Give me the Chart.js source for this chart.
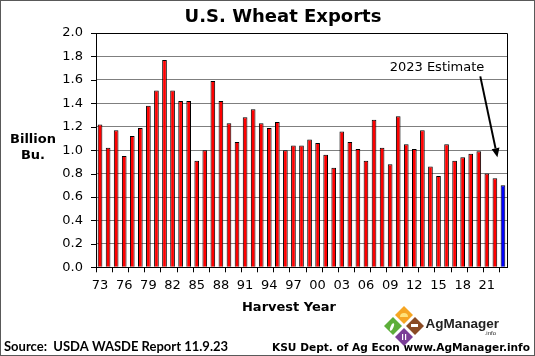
<!DOCTYPE html>
<html>
<head>
<meta charset="utf-8">
<script src="https://cdn.jsdelivr.net/npm/chart.js@4.4.1/dist/chart.umd.min.js"></script>
<style>
  html, body { margin: 0; padding: 0; background: #fff; }
  #wrap { width: 535px; height: 356px; }
</style>
</head>
<body>
<div id="wrap"><canvas id="c" width="535" height="356"></canvas></div>
<script>
// ---- data ----
const years = ['73','74','75','76','77','78','79','80','81','82',
               '83','84','85','86','87','88','89','90','91','92',
               '93','94','95','96','97','98','99','00','01','02',
               '03','04','05','06','07','08','09','10','11','12',
               '13','14','15','16','17','18','19','20','21','22','23'];
const exports = [1.22,1.02,1.17,0.95,1.12,1.19,1.38,1.51,1.77,1.51,
                 1.42,1.42,0.91,1.00,1.59,1.42,1.23,1.07,1.28,1.35,
                 1.23,1.19,1.24,1.00,1.04,1.04,1.09,1.06,0.96,0.85,
                 1.16,1.07,1.01,0.91,1.26,1.02,0.88,1.29,1.05,1.01,
                 1.17,0.86,0.78,1.05,0.91,0.94,0.97,0.99,0.80,0.76,0.70];
const estimateYear = '23';
const yTicks = [0.0,0.2,0.4,0.6,0.8,1.0,1.2,1.4,1.6,1.8,2.0];
const labelEvery = 3;
const titleText = 'U.S. Wheat Exports';
const yTitle = ['Billion', 'Bu.'];
const xTitle = 'Harvest Year';
const noteText = '2023 Estimate';
const sourceText = 'Source:  USDA WASDE Report 11.9.23';
const creditText = 'KSU Dept. of Ag Econ www.AgManager.info';

const RED = '#FF0000', BLUE = '#0000FF';
const barColors = years.map(y => y === estimateYear ? BLUE : RED);

const deco = {
  id: 'deco',
  beforeDraw(chart) {
    const ctx = chart.ctx;
    ctx.save();
    ctx.fillStyle = '#fff';
    ctx.fillRect(0, 0, chart.width, chart.height);
    ctx.restore();
  },
  afterDraw(chart) {
    const { ctx, chartArea: a, scales: { x, y } } = chart;
    ctx.save();
    // plot frame top & right
    ctx.strokeStyle = '#000';
    ctx.lineWidth = 1;
    ctx.beginPath();
    ctx.moveTo(a.left, Math.round(a.top) + 0.5);
    ctx.lineTo(Math.round(a.right) + 0.5, Math.round(a.top) + 0.5);
    ctx.lineTo(Math.round(a.right) + 0.5, a.bottom);
    ctx.stroke();
    // y tick marks
    ctx.beginPath();
    y.ticks.forEach(t => {
      const py = Math.round(y.getPixelForValue(t.value)) + 0.5;
      ctx.moveTo(a.left - 5, py);
      ctx.lineTo(a.left, py);
    });
    // x tick marks every 2 categories (between bars)
    const n = years.length;
    const cw = (x.right - x.left) / n;
    for (let i = 0; i <= n; i += 2) {
      const px = Math.round(x.left + i * cw) + 0.5;
      ctx.moveTo(px, a.bottom);
      ctx.lineTo(px, a.bottom + 5);
    }
    ctx.stroke();

    // title
    ctx.fillStyle = '#000';
    ctx.textAlign = 'center';
    ctx.textBaseline = 'middle';
    ctx.font = 'bold 18px "DejaVu Sans"';
    ctx.fillText(titleText, 283, 17);
    // y title
    ctx.font = 'bold 13px "DejaVu Sans"';
    ctx.fillText(yTitle[0], 33, 140);
    ctx.fillText(yTitle[1], 33, 156);
    // x title
    ctx.fillText(xTitle, 289, 308);
    // annotation
    ctx.font = '13px "DejaVu Sans"';
    ctx.fillText(noteText, 437, 68);
    // arrow anchored to the estimate region
    const tipX = x.getPixelForValue(years.length - 2) + 2.5;
    const tipY = y.getPixelForValue(0.94);
    const sX = x.getPixelForValue(years.length - 4) + 1.5;
    const sY = y.getPixelForValue(1.63);
    ctx.strokeStyle = '#000';
    ctx.lineWidth = 2;
    const ang = Math.atan2(tipY - sY, tipX - sX);
    const hl = 9, hw = 4;
    const bx = tipX - hl * Math.cos(ang), by = tipY - hl * Math.sin(ang);
    ctx.beginPath();
    ctx.moveTo(sX, sY);
    ctx.lineTo(bx, by);
    ctx.stroke();
    ctx.beginPath();
    ctx.moveTo(tipX, tipY);
    ctx.lineTo(bx + hw * Math.sin(ang), by - hw * Math.cos(ang));
    ctx.lineTo(bx - hw * Math.sin(ang), by + hw * Math.cos(ang));
    ctx.closePath();
    ctx.fillStyle = '#000';
    ctx.fill();

    // source
    ctx.textAlign = 'left';
    ctx.textBaseline = 'alphabetic';
    ctx.font = 'bold 13px Lato';
    ctx.fillStyle = '#000';
    ctx.fillText(sourceText, 4, 351);
    // credit
    ctx.textAlign = 'right';
    ctx.font = 'bold 10.6px "DejaVu Sans"';
    ctx.fillText(creditText, 530, 351);

    // AgManager logo
    const dia = (cx, cy, r, col) => {
      ctx.beginPath();
      ctx.moveTo(cx, cy - r); ctx.lineTo(cx + r, cy); ctx.lineTo(cx, cy + r); ctx.lineTo(cx - r, cy);
      ctx.closePath(); ctx.fillStyle = col; ctx.fill();
    };
    dia(404, 315, 9, '#F6A623');
    dia(393, 326, 9, '#5DAE3A');
    dia(415, 326, 9, '#8A4B24');
    dia(404, 337, 9, '#7A3E97');
    ctx.beginPath(); ctx.arc(404, 317, 4, Math.PI, 0); ctx.fillStyle = '#FFE27A'; ctx.fill();
    ctx.fillStyle = '#fff';
    ctx.beginPath(); ctx.ellipse(392, 327, 1.5, 4, 0.4, 0, Math.PI * 2); ctx.fill();
    ctx.fillRect(411, 324, 7, 3);
    ctx.fillRect(402, 334, 1.2, 6); ctx.fillRect(405, 334, 1.2, 6);
    ctx.fillStyle = '#222';
    ctx.font = 'bold 13.5px "Liberation Sans"';
    ctx.fillText('AgManager', 499, 328);
    ctx.font = '6px "Liberation Sans"';
    ctx.fillText('.info', 496, 335);

    // outer frame
    ctx.strokeStyle = '#595959';
    ctx.lineWidth = 1;
    ctx.strokeRect(0.5, 0.5, chart.width - 1, chart.height - 1);
    ctx.restore();
  }
};

new Chart(document.getElementById('c'), {
  type: 'bar',
  data: {
    labels: years,
    datasets: [{
      label: 'U.S. Wheat Exports',
      data: exports,
      backgroundColor: barColors,
      borderColor: '#000',
      borderWidth: 1,
      barPercentage: 0.58,
      categoryPercentage: 1.0
    }]
  },
  options: {
    responsive: false,
    animation: false,
    devicePixelRatio: 1,
    layout: { padding: { top: 33, right: 28, left: 0, bottom: 0 } },
    plugins: { legend: { display: false }, tooltip: { enabled: false }, title: { display: false } },
    scales: {
      x: {
        offset: true,
        grid: { display: true, drawOnChartArea: false, drawTicks: false, offset: true, color: 'rgba(0,0,0,0)' },
        border: { display: true, color: '#000', width: 1 },
        ticks: {
          autoSkip: false, maxRotation: 0, minRotation: 0, padding: 11,
          color: '#000', font: { family: 'DejaVu Sans', size: 13 },
          callback: (v, i) => (i % labelEvery === 0 ? years[i] : '')
        },
        afterFit: s => { s.height = 88.7; }
      },
      y: {
        min: 0, max: 2,
        afterBuildTicks: s => { s.ticks = yTicks.map(v => ({ value: v })); },
        grid: { color: '#7f7f7f', lineWidth: 1, drawTicks: false },
        border: { display: true, color: '#000', width: 1 },
        ticks: {
          padding: 13, color: '#000', font: { family: 'DejaVu Sans', size: 13 },
          callback: v => Number(v).toFixed(1)
        },
        afterFit: s => { s.width = 96; }
      }
    }
  },
  plugins: [deco]
});
</script>
</body>
</html>
